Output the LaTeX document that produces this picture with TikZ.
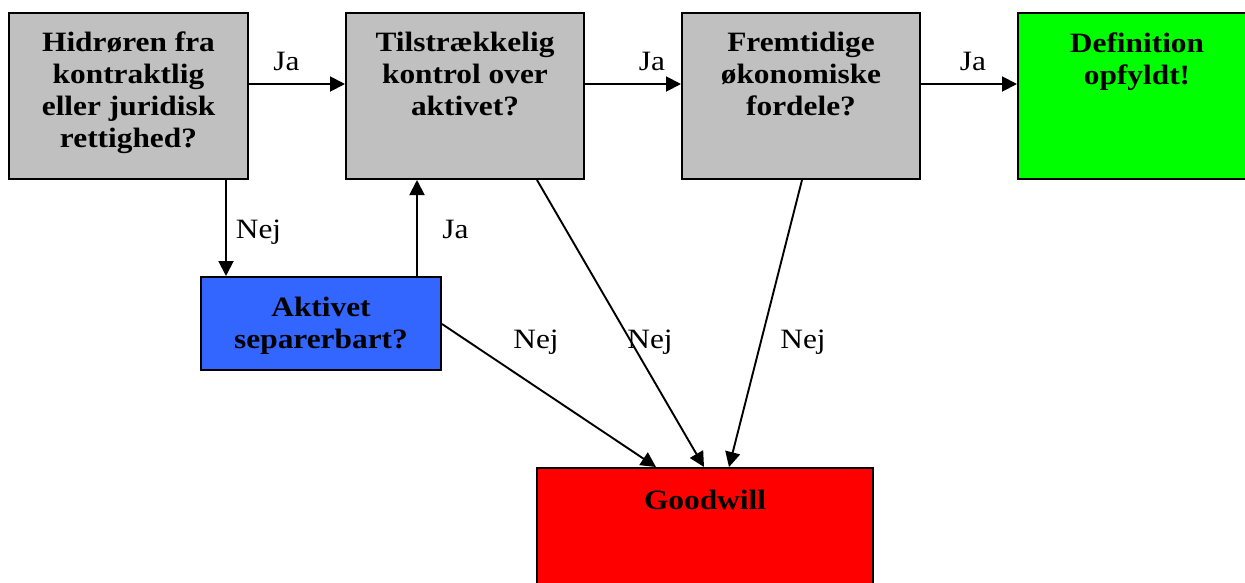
\documentclass[tikz,border=0pt]{standalone}
\usepackage{fontspec}
\setmainfont{Liberation Serif}[FakeStretch=1.12]
\usetikzlibrary{arrows.meta}
\definecolor{qgray}{HTML}{C0C0C0}
\definecolor{qblue}{HTML}{3366FF}
\definecolor{qgreen}{HTML}{00FF00}
\definecolor{qred}{HTML}{FF0000}
\tikzset{
  box/.style={draw=black, line width=2pt, inner sep=0pt, minimum width=238pt, minimum height=166pt},
  % anchored at the baseline of the last line
  boxtext/.style={font=\fontsize{28}{32}\selectfont\bfseries, align=center, inner sep=0pt, anchor=base},
  lbl/.style={font=\fontsize{28}{32}\selectfont, inner sep=0pt, anchor=base},
  arr/.style={line width=1.9pt, -{Triangle[length=15pt,width=15pt]}},
}
\begin{document}
\begin{tikzpicture}[x=1pt,y=-1pt]
  \useasboundingbox (0,0) rectangle (1245,582);
  \clip (0,0) rectangle (1245,582);
  \fill[white] (0,0) rectangle (1245,582);

  % decision boxes
  \node[box, fill=qgray, minimum width=239pt] (b1) at (128.5,96) {};
  \node[box, fill=qgray] (b2) at (465,96) {};
  \node[box, fill=qgray] (b3) at (801,96) {};
  \node[box, fill=qgreen] (b4) at (1137,96) {};
  \node[box, fill=qblue, minimum width=240pt, minimum height=93pt] (ak) at (321,323.5) {};
  \node[box, fill=qred, minimum width=336pt, minimum height=160pt] (gw) at (705,548) {};

  % box texts
  \node[boxtext] (t1) at (128.5,147.5) {Hidrøren fra\\kontraktlig\\eller juridisk\\rettighed?};
  \node[boxtext] (t2) at (465,115.5) {Tilstrækkelig\\kontrol over\\aktivet?};
  \node[boxtext] (t3) at (801,115.5) {Fremtidige\\økonomiske\\fordele?};
  \node[boxtext] (t4) at (1137,84) {Definition\\opfyldt!};
  \node[boxtext] (t5) at (321,348) {Aktivet\\separerbart?};
  \node[boxtext] (t6) at (705,509) {Goodwill};

  % connectors
  \draw[arr] ([yshift=12pt]b1.east) -- ([yshift=12pt]b2.west);
  \draw[arr] ([yshift=12pt]b2.east) -- ([yshift=12pt]b3.west);
  \draw[arr] ([yshift=12pt]b3.east) -- ([yshift=12pt]b4.west);
  \draw[arr] ([xshift=97.5pt]b1.south) -- ([xshift=-95pt]ak.north);
  \draw[arr] ([xshift=96pt]ak.north) -- ([xshift=-48pt]b2.south);
  \draw[arr] ([yshift=-0.5pt]ak.east) -- ([xshift=-49pt]gw.north);
  \draw[arr] ([xshift=72pt]b2.south) -- ([xshift=-1pt]gw.north);
  \draw[arr] ([xshift=1pt]b3.south) -- ([xshift=24pt]gw.north);

  % connector labels
  \node[lbl] (l1) at (286.5,70.5) {Ja};
  \node[lbl] (l2) at (652,70.5) {Ja};
  \node[lbl] (l3) at (973,70.5) {Ja};
  \node[lbl] (l4) at (258.5,238) {Nej};
  \node[lbl] (l5) at (455.5,238) {Ja};
  \node[lbl] (l6) at (536,348) {Nej};
  \node[lbl] (l7) at (650,348) {Nej};
  \node[lbl] (l8) at (803,348) {Nej};
\end{tikzpicture}
\end{document}
